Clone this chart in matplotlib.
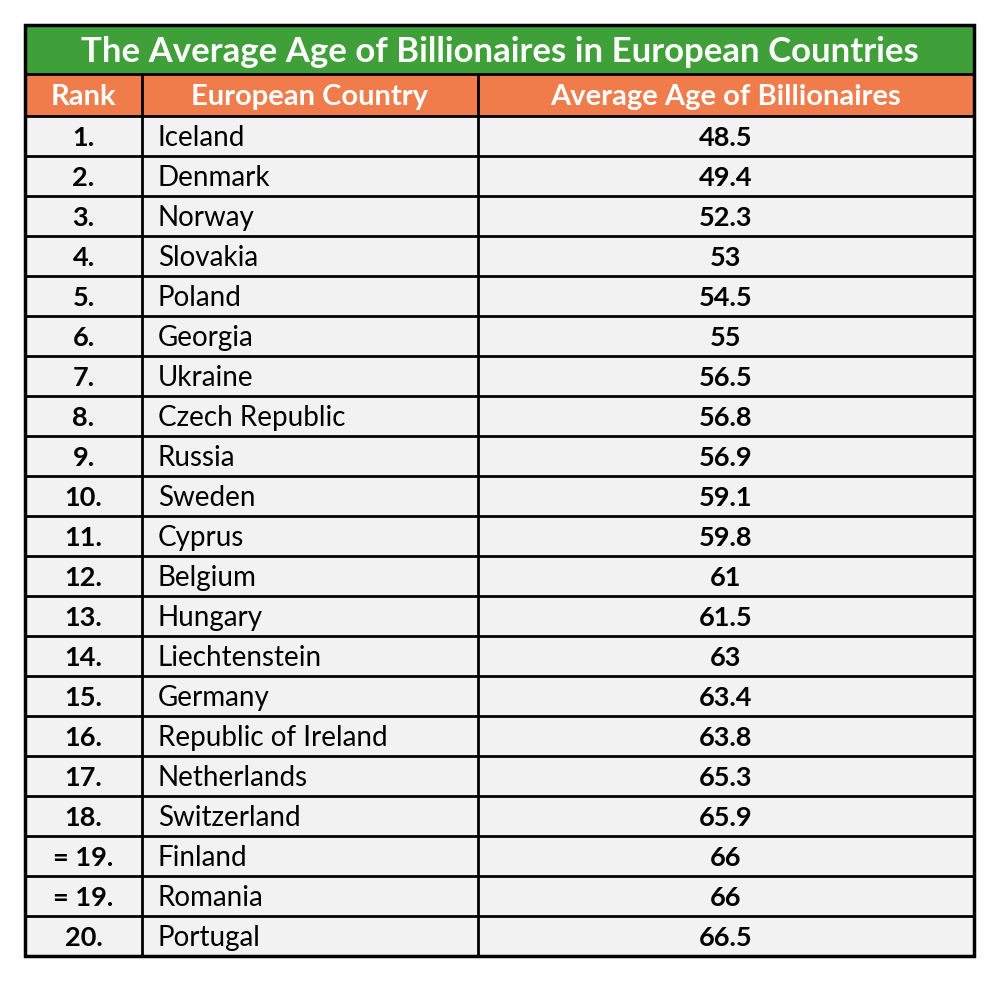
import matplotlib
matplotlib.use("Agg")
import matplotlib.pyplot as plt
from matplotlib.patches import Rectangle

# ── Data ─────────────────────────────────────────────────────────────
TITLE = "The Average Age of Billionaires in European Countries"
HEADERS = ["Rank", "European Country", "Average Age of Billionaires"]
RANKS = ["1.", "2.", "3.", "4.", "5.", "6.", "7.", "8.", "9.", "10.",
         "11.", "12.", "13.", "14.", "15.", "16.", "17.", "18.",
         "= 19.", "= 19.", "20."]
COUNTRIES = ["Iceland", "Denmark", "Norway", "Slovakia", "Poland", "Georgia",
             "Ukraine", "Czech Republic", "Russia", "Sweden", "Cyprus",
             "Belgium", "Hungary", "Liechtenstein", "Germany",
             "Republic of Ireland", "Netherlands", "Switzerland", "Finland",
             "Romania", "Portugal"]
AGES = ["48.5", "49.4", "52.3", "53", "54.5", "55", "56.5", "56.8", "56.9",
        "59.1", "59.8", "61", "61.5", "63", "63.4", "63.8", "65.3", "65.9",
        "66", "66", "66.5"]

# ── Style ────────────────────────────────────────────────────────────
GREEN = "#3f9f38"
ORANGE = "#f07c4b"
CELL = "#f2f2f2"
FONT = ["Lato", "DejaVu Sans"]

W, H = 1004, 982
X_COLS = [25, 142, 478, 974]
Y_TITLE, Y_HEAD, Y_BODY, ROW_H = 25, 74, 116, 40

fig = plt.figure(figsize=(W / 100, H / 100), dpi=100)
ax = fig.add_axes([0, 0, 1, 1])
ax.set_xlim(0, W)
ax.set_ylim(H, 0)
ax.axis("off")

left, right = X_COLS[0], X_COLS[-1]
bottom = Y_BODY + ROW_H * len(RANKS)

# title band
ax.add_patch(Rectangle((left, Y_TITLE), right - left, Y_HEAD - Y_TITLE,
                       facecolor=GREEN, edgecolor="none"))
ax.text((left + right) / 2, (Y_TITLE + Y_HEAD) / 2 + 2, TITLE, color="white",
        fontsize=25, fontweight="bold", family=FONT, ha="center", va="center")

# header band
ax.add_patch(Rectangle((left, Y_HEAD), right - left, Y_BODY - Y_HEAD,
                       facecolor=ORANGE, edgecolor="none"))
for i, h in enumerate(HEADERS):
    cx = (X_COLS[i] + X_COLS[i + 1]) / 2
    ax.text(cx, (Y_HEAD + Y_BODY) / 2 + 2, h, color="white", fontsize=21,
            fontweight="bold", family=FONT, ha="center", va="center")

# body
ax.add_patch(Rectangle((left, Y_BODY), right - left, bottom - Y_BODY,
                       facecolor=CELL, edgecolor="none"))
for r, (rank, country, age) in enumerate(zip(RANKS, COUNTRIES, AGES)):
    cy = Y_BODY + ROW_H * (r + 0.5) + 2
    ax.text((X_COLS[0] + X_COLS[1]) / 2, cy, rank, fontsize=19.5,
            fontweight="bold", family=FONT, ha="center", va="center")
    ax.text(X_COLS[1] + 16, cy, country, fontsize=20, family=FONT,
            ha="left", va="center")
    ax.text((X_COLS[2] + X_COLS[3]) / 2, cy, age, fontsize=19.5,
            fontweight="bold", family=FONT, ha="center", va="center")

# grid lines
lw = 2.0
for y in [Y_HEAD] + [Y_BODY + ROW_H * k for k in range(len(RANKS))]:
    ax.plot([left, right], [y, y], color="black", lw=lw)
for x in X_COLS[1:-1]:
    ax.plot([x, x], [Y_HEAD, bottom], color="black", lw=lw)
ax.add_patch(Rectangle((left, Y_TITLE), right - left, bottom - Y_TITLE,
                       facecolor="none", edgecolor="black", lw=2.5))

fig.savefig("out.png", dpi=100, facecolor="white")
